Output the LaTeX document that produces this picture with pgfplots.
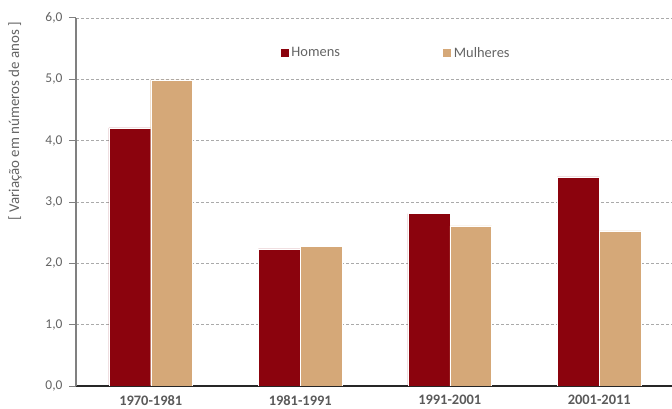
\documentclass[border=0pt]{standalone}
\usepackage{fontspec}
\setmainfont{Carlito}
\usepackage{pgfplots}
\pgfplotsset{compat=1.18}
\definecolor{homens}{RGB}{139,3,13}
\definecolor{mulheres}{RGB}{213,168,120}
\definecolor{txtgray}{RGB}{100,100,100}
\definecolor{lblgray}{RGB}{90,90,90}
\definecolor{gridgray}{RGB}{170,170,170}
\begin{document}
\begin{tikzpicture}
\begin{axis}[name=ax,
  scale only axis, width=598bp, height=368bp,
  xmin=-0.5, xmax=3.5, ymin=0, ymax=6,
  ybar=0pt, bar width=0.28,
  axis x line*=bottom, axis y line*=left,
  x axis line style={draw=black!85, line width=1.2pt},
  y axis line style={draw=gray, line width=1.2pt},
  xtick={0,1,2,3},
  xticklabels={1970-1981,1981-1991,1991-2001,2001-2011},
  xtick style={draw=none},
  x tick label style={font=\fontsize{14.5}{14.5}\selectfont\bfseries, text=lblgray, yshift=1bp},
  extra x ticks={-0.5,0.5,1.5,2.5},
  extra x tick labels={},
  extra x tick style={grid=none, tick align=outside, major tick length=6bp, tick style={draw=black!85, line width=1pt}},
  ytick={0,1,2,3,4,5,6},
  tick align=outside,
  ytick style={draw=gray, line width=1pt},
  major tick length=7bp,
  ymajorgrids,
  grid style={dash pattern=on 3bp off 2bp, gridgray, line width=0.8pt},
  y tick label style={font=\fontsize{13.5}{13.5}\selectfont, text=txtgray, xshift=-3bp},
  /pgf/number format/.cd, fixed, fixed zerofill, precision=1, use comma, assume math mode=true,
  /pgfplots/.cd,
  ylabel={[ Variação em números de anos ]},
  ylabel style={at={(axis description cs:-0.102,0.72)}, anchor=center, font=\fontsize{15}{15}\selectfont, text=txtgray},
  legend columns=2,
  legend style={draw=none, fill=none, at={(0.340,0.905)}, anchor=west, inner sep=0pt,
    font=\fontsize{14.5}{14.5}\selectfont, text=txtgray,
    /tikz/every even column/.append style={column sep=100bp}},
  legend image code/.code={\fill[#1] (0bp,-4.7bp) rectangle (9.5bp,4.7bp);},
]
\addplot[fill=homens, draw=white, line width=0.4pt] coordinates {(0,4.21)(1,2.235)(2,2.81)(3,3.41)};
\addplot[fill=mulheres, draw=white, line width=0.4pt] coordinates {(0,4.99)(1,2.28)(2,2.61)(3,2.53)};
\legend{Homens,Mulheres}
\end{axis}
\pgfresetboundingbox
\path ([xshift=-76bp,yshift=-23bp]ax.south west) rectangle ([xshift=-2bp,yshift=18bp]ax.north east);
\end{tikzpicture}
\end{document}
